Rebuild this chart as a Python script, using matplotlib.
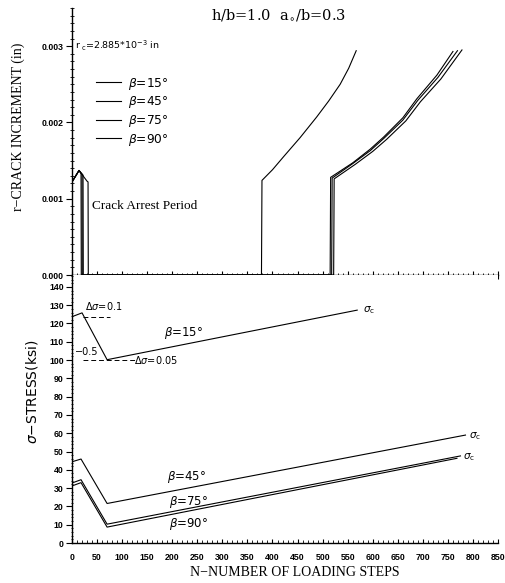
import matplotlib
matplotlib.use("Agg")
import matplotlib.pyplot as plt
from matplotlib.ticker import MultipleLocator, FormatStrFormatter

# ---- data: top panel (crack increment r vs loading step N) ----
n_b15 = [0, 14, 30, 32, 32.5, 378, 379, 400, 422, 455, 488, 512, 535, 552, 567]
r_b15 = [0.00122, 0.00137, 0.00123, 0.00122, 0, 0, 0.00124, 0.00138, 0.00155, 0.00180,
         0.00207, 0.00228, 0.00250, 0.00271, 0.00294]
n_b45 = [0, 14, 18, 18.5, 515, 516, 560, 595, 622, 660, 688, 728, 760]
r_b45 = [0.00122, 0.00137, 0.00133, 0, 0, 0.00128, 0.00147, 0.00165, 0.00181, 0.00206,
         0.00231, 0.00262, 0.00293]
n_b75 = [0, 14, 20, 20.5, 518, 519, 560, 595, 622, 660, 690, 730, 769]
r_b75 = [0.00122, 0.00137, 0.00132, 0, 0, 0.00127, 0.00146, 0.00163, 0.00179, 0.00203,
         0.00229, 0.00259, 0.00294]
n_b90 = [0, 14, 22, 22.5, 522, 523, 565, 600, 628, 666, 695, 736, 778]
r_b90 = [0.00122, 0.00137, 0.00131, 0, 0, 0.00126, 0.00145, 0.00162, 0.00178, 0.00202,
         0.00227, 0.00257, 0.00295]

# ---- data: bottom panel (stress sigma vs loading step N) ----
sn_b15 = [0, 20, 70, 569]
s_b15 = [123.7, 125.8, 100.2, 127.3]
sn_b45 = [0, 18, 70, 785]
s_b45 = [44.4, 45.9, 21.6, 59.0]
sn_b75 = [0, 18, 70, 775]
s_b75 = [32.8, 34.6, 10.3, 47.6]
sn_b90 = [0, 18, 70, 768]
s_b90 = [31.2, 33.0, 8.7, 46.3]

legend_labels = ["$\\beta$=15°", "$\\beta$=45°", "$\\beta$=75°", "$\\beta$=90°"]
x_ticks = list(range(0, 851, 50))

fig = plt.figure(figsize=(5.06, 5.83), dpi=100)
ax1 = fig.add_axes([0.1423, 0.5283, 0.842, 0.458])
ax2 = fig.add_axes([0.1423, 0.0686, 0.842, 0.4597])

lc = "black"
lw = 0.8
for n, r, lab in zip([n_b15, n_b45, n_b75, n_b90], [r_b15, r_b45, r_b75, r_b90], legend_labels):
    ax1.plot(n, r, color=lc, lw=lw, label=lab)

for ax in (ax1, ax2):
    ax.set_xlim(0, 850)
    for s in ("top", "right"):
        ax.spines[s].set_visible(False)
    ax.spines["left"].set_linewidth(1.0)
    ax.spines["bottom"].set_linewidth(1.0)
    ax.xaxis.set_major_locator(MultipleLocator(50))
    ax.xaxis.set_minor_locator(MultipleLocator(10))

tickfont = dict(family="Liberation Sans", size=6.3, weight="bold")

ax1.set_ylim(0, 0.0035)
ax1.yaxis.set_major_locator(MultipleLocator(0.001))
ax1.yaxis.set_minor_locator(MultipleLocator(0.0001))
ax1.yaxis.set_major_formatter(FormatStrFormatter("%.3f"))
ax1.tick_params(axis="y", which="major", direction="out", length=4, width=0.8, pad=2)
ax1.tick_params(axis="y", which="minor", direction="inout", length=2.5, width=0.6)
ax1.tick_params(axis="x", which="major", direction="inout", length=6, width=0.8, labelbottom=False)
ax1.tick_params(axis="x", which="minor", direction="inout", length=3, width=0.6)
for t in ax1.get_yticklabels():
    t.set_fontproperties(matplotlib.font_manager.FontProperties(**tickfont))

for n, s in zip([sn_b15, sn_b45, sn_b75, sn_b90], [s_b15, s_b45, s_b75, s_b90]):
    ax2.plot(n, s, color=lc, lw=lw)

ax2.set_ylim(0, 146.5)
ax2.yaxis.set_major_locator(MultipleLocator(10))
ax2.yaxis.set_minor_locator(MultipleLocator(2))
ax2.tick_params(axis="y", which="major", direction="out", length=4, width=0.8, pad=2)
ax2.tick_params(axis="y", which="minor", direction="inout", length=2, width=0.6)
ax2.tick_params(axis="x", which="major", direction="in", length=3, width=0.8, pad=7)
ax2.tick_params(axis="x", which="minor", direction="in", length=2, width=0.6)
ax2.set_xticks(x_ticks)
for t in ax2.get_yticklabels() + ax2.get_xticklabels():
    t.set_fontproperties(matplotlib.font_manager.FontProperties(**tickfont))

# legend
leg = ax1.legend(loc="upper left", bbox_to_anchor=(0.045, 0.765), frameon=False,
                 handlelength=2.0, handletextpad=0.6, labelspacing=0.22, borderaxespad=0,
                 prop=dict(family="DejaVu Sans", size=8.8))

# annotations top
ax1.text(412, 0.00341, "h/b=1.0  a$_{\\circ}$/b=0.3", ha="center", va="center",
         fontsize=10.5, family="DejaVu Serif")
ax1.text(6, 0.003, "r$_{\\ \\rm c}$=2.885*10$^{-3}$ in", ha="left", va="center",
         fontsize=6.8, family="DejaVu Sans")
ax1.text(40, 0.00091, "Crack Arrest Period", ha="left", va="center",
         fontsize=9.5, family="Liberation Serif")

# annotations bottom
ax2.plot([21, 75], [123.7, 123.7], color=lc, lw=0.7, ls=(0, (5, 3)))
ax2.text(25, 126.5, "$\\Delta\\sigma$=0.1", fontsize=7, family="DejaVu Sans", ha="left", va="bottom")
ax2.plot([21, 125], [100.2, 100.2], color=lc, lw=0.7, ls=(0, (5, 3)))
ax2.text(6, 104.5, "−0.5", fontsize=7, family="DejaVu Sans", ha="left", va="center")
ax2.text(123, 100.2, "$\\Delta\\sigma$=0.05", fontsize=7, family="DejaVu Sans", ha="left", va="center")
ax2.text(222, 115, "$\\beta$=15°", fontsize=8.5, family="DejaVu Sans", ha="center", va="center")
ax2.text(229, 36.3, "$\\beta$=45°", fontsize=8.5, family="DejaVu Sans", ha="center", va="center")
ax2.text(232, 22.6, "$\\beta$=75°", fontsize=8.5, family="DejaVu Sans", ha="center", va="center")
ax2.text(232, 10.2, "$\\beta$=90°", fontsize=8.5, family="DejaVu Sans", ha="center", va="center")
ax2.text(580, 127.5, "$\\sigma_{\\rm c}$", fontsize=7.5, ha="left", va="center")
ax2.text(793, 58.5, "$\\sigma_{\\rm c}$", fontsize=7.5, ha="left", va="center")
ax2.text(781, 47.0, "$\\sigma_{\\rm c}$", fontsize=7.5, ha="left", va="center")

# axis labels
fig.text(18 / 506, 1 - 127 / 583, "r−CRACK INCREMENT (in)", rotation=90, ha="center",
         va="center", fontsize=10, family="Liberation Serif")
fig.text(32 / 506, 1 - 392 / 583, "$\\sigma$−STRESS(ksi)", rotation=90, ha="center",
         va="center", fontsize=10, family="DejaVu Sans")
fig.text(295 / 506, 1 - 573 / 583, "N−NUMBER OF LOADING STEPS", ha="center",
         va="center", fontsize=10, family="Liberation Serif")

fig.savefig("out.png", dpi=100)
